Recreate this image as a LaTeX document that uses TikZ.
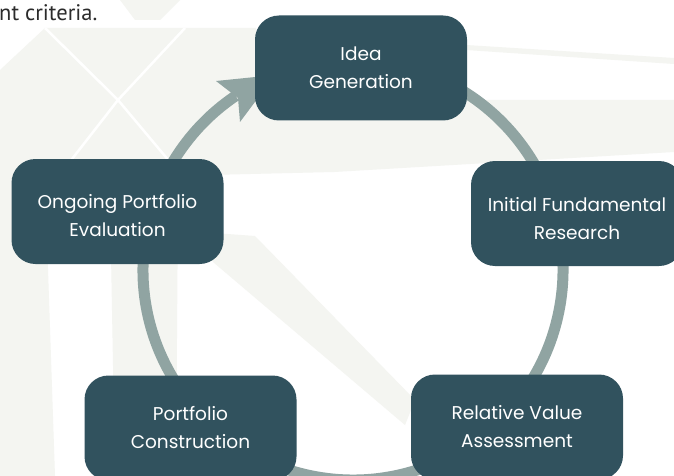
\documentclass[tikz,border=0pt]{standalone}
\usepackage{fontspec}
\setmainfont{Poppins}
\newfontfamily\captfont{PT Sans}
\definecolor{boxfill}{HTML}{31525E}
\definecolor{ringcol}{HTML}{90A4A2}
\definecolor{bglight}{HTML}{F4F5F1}
\definecolor{captcol}{HTML}{2B2B2B}
\newcommand\lowerby[1]{\rule{0pt}{#1}}
\tikzset{
  stepbox/.style={rectangle, rounded corners=24pt, fill=boxfill, text=white,
    minimum width=212pt, minimum height=105pt, inner sep=0pt, align=center,
    font=\fontsize{18.5}{28}\selectfont},
  ring/.style={draw=ringcol, line width=11pt},
  bgpoly/.style={fill=bglight, draw=none},
  bgline/.style={draw=white, line width=2.5pt}
}
\begin{document}
\begin{tikzpicture}[x=1pt,y=1pt]
\useasboundingbox (0,0) rectangle (674,-476);
\fill[white] (0,0) rectangle (674,-476);
% faint background geometry
\fill[bgpoly] (0,-100) -- (674,-100) -- (674,-152) -- (334,-172) -- (0,-180) -- cycle;
\fill[bgpoly] (45,-28) -- (256,-28) -- (256,-100) -- (0,-100) -- (0,-70) -- cycle;
\fill[bgpoly] (120,0) -- (180,0) -- (160,-20) -- (135,-20) -- cycle;
\fill[bgpoly] (0,-180) -- (45,-180) -- (55,-476) -- (0,-476) -- cycle;
\fill[bgpoly] (110,-200) -- (178,-200) -- (176,-476) -- (115,-476) -- cycle;
\fill[bgpoly] (200,-232) -- (255,-236) -- (415,-400) -- (405,-425) -- (213,-262) -- cycle;
\fill[bgpoly] (466,-45) -- (674,-58) -- (674,-64) -- (466,-50) -- cycle;
\draw[bgline] (45,-28) -- (118,-100) -- (175,-168);
\draw[bgline] (185,-28) -- (118,-100) -- (65,-168);
% caption fragment
\node[anchor=base west, inner sep=0pt, text=captcol, font=\captfont\fontsize{22.5}{26}\selectfont] (capt) at (-1,-21) {nt criteria.};
% cycle ring
\coordinate (c) at (353,-270);
\draw[ring] (c) ++(80:210) arc[start angle=80, end angle=-236, radius=210];
\coordinate (tip) at (275,-75);
\coordinate (wingA) at (216,-81);
\coordinate (notch) at (238,-98);
\coordinate (wingB) at (240,-122);
\fill[ringcol] (tip) -- (wingA) -- (notch) -- (wingB) -- cycle;
% steps
\node[stepbox] (idea) at (361,-68) {Idea\\Generation};
\node[stepbox] (research) at (577,-213.5) {\lowerby{24pt}Initial Fundamental\\Research};
\node[stepbox] (value) at (517,-427) {Relative Value\\Assessment};
\node[stepbox] (constr) at (190.5,-428) {Portfolio\\Construction};
\node[stepbox] (eval) at (117.5,-211.5) {\lowerby{22pt}Ongoing Portfolio\\Evaluation};
\end{tikzpicture}
\end{document}
